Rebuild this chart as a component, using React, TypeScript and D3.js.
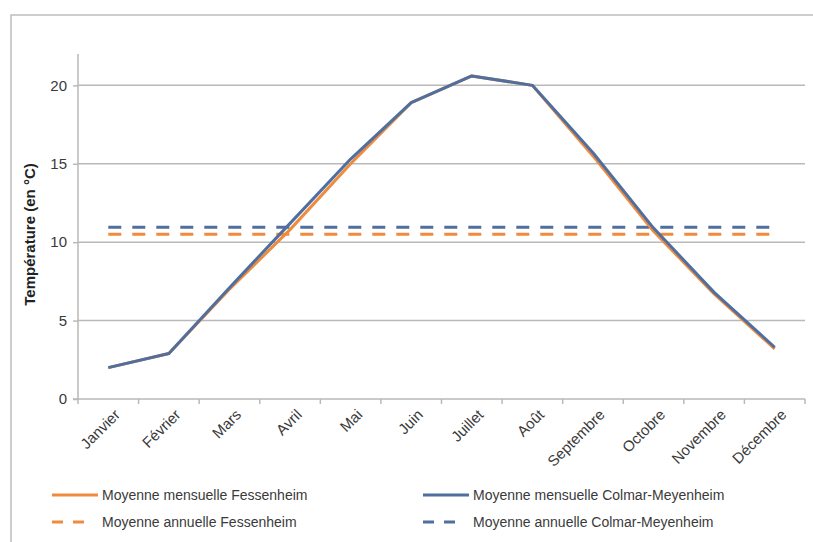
import { useRef, useEffect } from "react";
import * as d3 from "d3";

// months on the x axis
const months = [
  "Janvier", "Février", "Mars", "Avril", "Mai", "Juin",
  "Juillet", "Août", "Septembre", "Octobre", "Novembre", "Décembre",
];
// monthly means (°C)
const fessenheim = [2.0, 2.9, 7.0, 10.8, 15.0, 18.9, 20.6, 20.0, 15.5, 10.7, 6.7, 3.2];
const colmar = [2.0, 2.9, 7.1, 11.2, 15.3, 18.9, 20.6, 20.0, 15.7, 10.9, 6.8, 3.3];
// annual means
const fessenheimAnnual = 10.5;
const colmarAnnual = 10.95;
const yTicks = [0, 5, 10, 15, 20];

const ORANGE = "#EF8B3E";
const BLUE = "#4F6F9F";
const GRID = "#b9b9b9";

const App = () => {
  const svgRef = useRef(null);

  useEffect(() => {
    const width = 813;
    const height = 542;
    const svg = d3.select(svgRef.current);
    svg.selectAll("*").remove();

    const left = 78, right = 805, top = 54, bottom = 399;
    const font = "Liberation Sans, Arial, sans-serif";

    // outer frame
    svg.append("rect")
      .attr("x", 11).attr("y", 15)
      .attr("width", width + 20).attr("height", height + 20)
      .attr("fill", "none").attr("stroke", "#bdbdbd").attr("stroke-width", 1.5);

    const xScale = d3.scaleBand().domain(months).range([left, right]);
    const yScale = d3.scaleLinear().domain([0, 22]).range([bottom, top]);

    // gridlines
    svg.append("g")
      .selectAll("line")
      .data(yTicks.filter((t) => t > 0))
      .join("line")
      .attr("x1", left).attr("x2", right)
      .attr("y1", (d) => yScale(d)).attr("y2", (d) => yScale(d))
      .attr("stroke", GRID).attr("stroke-width", 1.5);

    // y axis
    const yAxis = d3.axisLeft(yScale).tickValues(yTicks).tickSize(5).tickPadding(6);
    const gy = svg.append("g").attr("transform", `translate(${left},0)`).call(yAxis);
    gy.select(".domain").attr("stroke", GRID).attr("stroke-width", 1.5).attr("d", `M-5,${bottom}H0V${top}`);
    gy.selectAll(".tick line").attr("stroke", GRID).attr("stroke-width", 1.5);
    gy.selectAll(".tick text")
      .attr("font-family", font).attr("font-size", 15).attr("fill", "#3a3a3a");

    // x axis with ticks between categories
    svg.append("line")
      .attr("x1", left).attr("x2", right).attr("y1", bottom).attr("y2", bottom)
      .attr("stroke", GRID).attr("stroke-width", 1.5);
    svg.append("g")
      .selectAll("line")
      .data(months.concat(["end"]))
      .join("line")
      .attr("x1", (d, i) => left + i * xScale.bandwidth())
      .attr("x2", (d, i) => left + i * xScale.bandwidth())
      .attr("y1", bottom).attr("y2", bottom + 5)
      .attr("stroke", GRID).attr("stroke-width", 1.5);
    svg.append("g")
      .selectAll("text")
      .data(months)
      .join("text")
      .attr("transform", (d) => {
        const cx = xScale(d) + xScale.bandwidth() / 2 + 9;
        return `translate(${cx},${bottom + 13}) rotate(-45)`;
      })
      .attr("text-anchor", "end")
      .attr("dy", "0.35em")
      .attr("font-family", font).attr("font-size", 15).attr("fill", "#3a3a3a")
      .text((d) => d);

    // y label
    svg.append("text")
      .attr("transform", `translate(35,${(top + bottom) / 2 + 8}) rotate(-90)`)
      .attr("text-anchor", "middle")
      .attr("font-family", font).attr("font-size", 15).attr("font-weight", "bold")
      .attr("fill", "#222")
      .text("Température (en °C)");

    const cx = (m) => xScale(m) + xScale.bandwidth() / 2;
    const first = cx(months[0]);
    const last = cx(months[months.length - 1]);

    // annual mean dashed lines
    [[colmarAnnual, BLUE], [fessenheimAnnual, ORANGE]].forEach(([v, c]) => {
      svg.append("line")
        .attr("x1", first).attr("x2", last)
        .attr("y1", yScale(v)).attr("y2", yScale(v))
        .attr("stroke", c).attr("stroke-width", 3)
        .attr("stroke-dasharray", "13,11");
    });

    // monthly lines
    const line = d3.line().x((d, i) => cx(months[i])).y((d) => yScale(d));
    svg.append("path")
      .attr("d", line(fessenheim))
      .attr("fill", "none").attr("stroke", ORANGE).attr("stroke-width", 3)
      .attr("stroke-linejoin", "round");
    svg.append("path")
      .attr("d", line(colmar))
      .attr("fill", "none").attr("stroke", BLUE).attr("stroke-width", 3)
      .attr("stroke-linejoin", "round");

    // legend
    const legend = [
      { x: 52, y: 495, color: ORANGE, dash: null, label: "Moyenne mensuelle Fessenheim" },
      { x: 52, y: 522, color: ORANGE, dash: "11,10", label: "Moyenne annuelle Fessenheim" },
      { x: 423, y: 495, color: BLUE, dash: null, label: "Moyenne mensuelle Colmar-Meyenheim" },
      { x: 423, y: 522, color: BLUE, dash: "11,10", label: "Moyenne annuelle Colmar-Meyenheim" },
    ];
    legend.forEach((l) => {
      svg.append("line")
        .attr("x1", l.x).attr("x2", l.x + (l.dash ? 32 : 46))
        .attr("y1", l.y).attr("y2", l.y)
        .attr("stroke", l.color).attr("stroke-width", 3)
        .attr("stroke-dasharray", l.dash);
      svg.append("text")
        .attr("x", l.x + 50).attr("y", l.y + 5)
        .attr("font-family", font).attr("font-size", 14).attr("fill", "#3a3a3a")
        .text(l.label);
    });
  }, []);

  return (
    <svg
      ref={svgRef}
      width={813}
      height={542}
      style={{ position: "absolute", left: 0, top: 0, background: "#fff" }}
    ></svg>
  );
};

export default App;
